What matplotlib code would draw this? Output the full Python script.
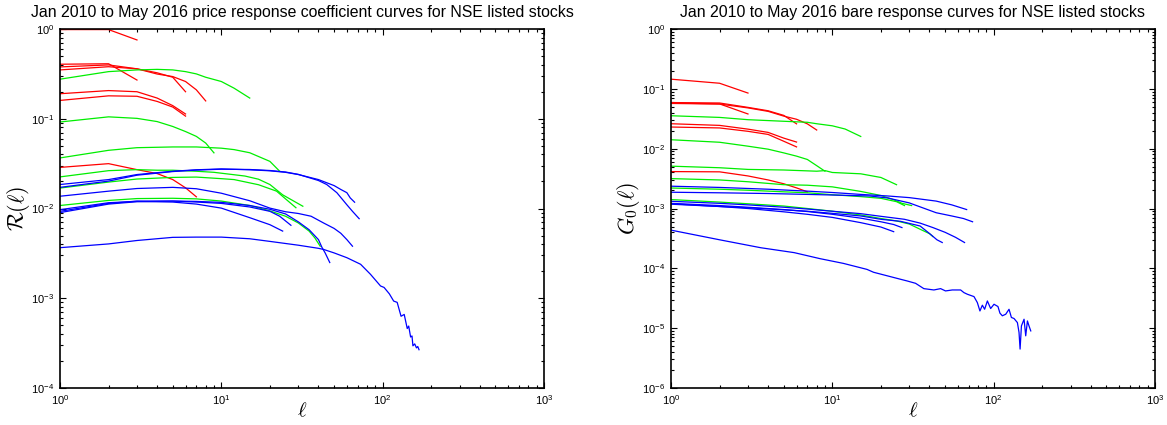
import matplotlib
matplotlib.use("Agg")
import matplotlib.pyplot as plt
from matplotlib.ticker import LogLocator, NullFormatter

plt.rcParams['font.family'] = ['Liberation Sans', 'DejaVu Sans']
plt.rcParams['mathtext.fontset'] = 'dejavusans'

# ---------------- price response coefficient R(l) ----------------
# red group
RR1_LAG = [1, 2, 3]
RR1_VAL = [0.985, 0.985, 0.755]
RR2_LAG = [1, 2, 3]
RR2_VAL = [0.405, 0.41, 0.27]
RR3_LAG = [1, 2, 3, 4, 5, 6]
RR3_VAL = [0.378, 0.398, 0.36, 0.325, 0.29, 0.20]
RR4_LAG = [1, 2, 3, 4, 5, 6, 7, 8]
RR4_VAL = [0.35, 0.38, 0.36, 0.315, 0.295, 0.26, 0.21, 0.158]
RR5_LAG = [1, 2, 3, 4, 5, 6]
RR5_VAL = [0.19, 0.206, 0.20, 0.17, 0.14, 0.113]
RR6_LAG = [1, 2, 3, 4, 5, 6]
RR6_VAL = [0.16, 0.18, 0.178, 0.156, 0.135, 0.107]
RR7_LAG = [1, 2, 3, 4, 5, 6, 7]
RR7_VAL = [0.0287, 0.0316, 0.0271, 0.0245, 0.021, 0.017, 0.0135]

# green group
RG1_LAG = [1, 2, 3, 4, 5, 6, 7, 8, 10, 12, 15]
RG1_VAL = [0.276, 0.335, 0.35, 0.355, 0.35, 0.335, 0.316, 0.29, 0.26, 0.219, 0.17]
RG2_LAG = [1, 2, 3, 4, 5, 6, 7, 8, 9]
RG2_VAL = [0.092, 0.105, 0.101, 0.093, 0.082, 0.072, 0.0636, 0.0536, 0.0417]
RG3_LAG = [1, 2, 3, 5, 7, 10, 12, 15, 20, 23]
RG3_VAL = [0.0366, 0.0445, 0.0476, 0.0485, 0.0485, 0.047, 0.0453, 0.0418, 0.0335, 0.026]
RG4_LAG = [1, 2, 3, 4, 5, 7, 9, 14, 17, 20, 24, 32]
RG4_VAL = [0.0225, 0.0264, 0.0271, 0.0267, 0.0267, 0.026, 0.0253, 0.023, 0.0212, 0.0185, 0.0142, 0.0106]
RG5_LAG = [1, 2, 3, 5, 7, 10, 12, 17, 22, 25, 29]
RG5_VAL = [0.0169, 0.0197, 0.0213, 0.0222, 0.0224, 0.0215, 0.021, 0.0184, 0.0156, 0.0128, 0.0102]
RG6_LAG = [1, 2, 3, 5, 7, 10, 15, 20, 25, 30, 35, 38, 41]
RG6_VAL = [0.0108, 0.0123, 0.0129, 0.013, 0.0128, 0.0121, 0.0108, 0.0094, 0.0082, 0.0069, 0.0056, 0.0047, 0.0038]

# blue group
RB1_LAG = [1, 2, 3, 5, 7, 10, 15, 20, 30, 40, 43, 50, 60, 73, 84, 97, 102, 110, 117,
           123, 130, 136, 142, 145, 149, 152, 154, 158, 162, 165, 168]
RB1_VAL = [0.00366, 0.00403, 0.0044, 0.00477, 0.0048, 0.0048, 0.0046, 0.0043, 0.0039,
           0.0036, 0.0035, 0.0032, 0.00283, 0.00239, 0.00185, 0.00137, 0.00132, 0.00112,
           0.00093, 0.0009, 0.00063, 0.00066, 0.00046, 0.00049, 0.00037, 0.00038,
           0.000295, 0.00031, 0.00028, 0.00029, 0.000267]
RB2_LAG = [1, 2, 3, 5, 7, 10, 15, 20, 25, 30, 40, 50, 55, 60, 63, 67]
RB2_VAL = [0.0185, 0.021, 0.0239, 0.026, 0.027, 0.0276, 0.027, 0.0263, 0.0253, 0.0239,
           0.021, 0.018, 0.0163, 0.015, 0.0131, 0.01175]
RB3_LAG = [1, 2, 3, 5, 7, 10, 15, 20, 25, 30, 40, 45, 52, 60, 65, 71.5]
RB3_VAL = [0.0172, 0.0202, 0.0235, 0.0258, 0.0268, 0.0274, 0.0272, 0.0265, 0.0255, 0.024,
           0.0205, 0.0185, 0.015, 0.011, 0.0093, 0.0077]
RB4_LAG = [1, 2, 3, 5, 7, 10, 15, 20, 25, 30, 36, 43, 50, 55, 60, 65]
RB4_VAL = [0.0137, 0.0156, 0.0167, 0.0172, 0.0166, 0.0148, 0.0122, 0.0101, 0.0092, 0.0088,
           0.0082, 0.0069, 0.006, 0.0053, 0.0045, 0.0038]
RB5_LAG = [1, 2, 3, 5, 7, 10, 15, 20, 24]
RB5_VAL = [0.0097, 0.0116, 0.012, 0.0118, 0.0112, 0.0101, 0.0079, 0.0066, 0.0056]
RB6_LAG = [1, 2, 3, 5, 7, 10, 15, 20, 23, 27]
RB6_VAL = [0.0093, 0.0114, 0.0121, 0.0121, 0.0118, 0.0114, 0.0104, 0.0093, 0.0082, 0.0065]
RB7_LAG = [1, 2, 3, 5, 7, 10, 15, 20, 25, 30, 35, 40, 42, 44, 47]
RB7_VAL = [0.009, 0.0112, 0.0119, 0.0121, 0.012, 0.0117, 0.0108, 0.0098, 0.0087, 0.0071,
           0.0058, 0.0045, 0.0037, 0.0032, 0.0025]

# ---------------- bare response G0(l) ----------------
GR1_LAG = [1, 2, 3]
GR1_VAL = [0.145, 0.124, 0.085]
GR2_LAG = [1, 2, 3]
GR2_VAL = [0.058, 0.056, 0.038]
GR3_LAG = [1, 2, 3, 4, 5, 6]
GR3_VAL = [0.059, 0.058, 0.049, 0.043, 0.036, 0.026]
GR4_LAG = [1, 2, 3, 4, 5, 6, 7, 8]
GR4_VAL = [0.057, 0.0557, 0.048, 0.042, 0.035, 0.031, 0.026, 0.0205]
GR5_LAG = [1, 2, 3, 4, 5, 6]
GR5_VAL = [0.0261, 0.0245, 0.0212, 0.0187, 0.015, 0.0129]
GR6_LAG = [1, 2, 3, 4, 5, 6]
GR6_VAL = [0.023, 0.0222, 0.0195, 0.0173, 0.0133, 0.0107]
GR7_LAG = [1, 2, 3, 4, 5, 6, 7]
GR7_VAL = [0.00414, 0.0041, 0.0035, 0.003, 0.00259, 0.00221, 0.0019]

GG1_LAG = [1, 2, 3, 5, 7, 8, 10, 12, 15]
GG1_VAL = [0.0355, 0.0333, 0.0305, 0.0287, 0.0276, 0.0261, 0.0241, 0.0213, 0.016]
GG2_LAG = [1, 2, 3, 4, 5, 6, 7, 8, 9]
GG2_VAL = [0.0141, 0.0128, 0.011, 0.0098, 0.0085, 0.0075, 0.0066, 0.0052, 0.0042]
GG3_LAG = [1, 2, 3, 5, 8, 9, 10, 15, 20, 25]
GG3_VAL = [0.0051, 0.0048, 0.0045, 0.0044, 0.0042, 0.0043, 0.004, 0.0038, 0.0033, 0.0025]
GG4_LAG = [1, 2, 3, 5, 7, 10, 15, 20, 24, 27, 31]
GG4_VAL = [0.00316, 0.003, 0.0028, 0.0025, 0.00245, 0.0023, 0.00193, 0.00165, 0.0014,
           0.00122, 0.00112]
GG5_LAG = [1, 2, 3, 5, 7, 10, 15, 20, 25, 28]
GG5_VAL = [0.0022, 0.0021, 0.00202, 0.0019, 0.00183, 0.0017, 0.00158, 0.00148, 0.0013, 0.00112]
GG6_LAG = [1, 2, 3, 5, 7, 10, 15, 20, 25, 30, 35, 40, 42]
GG6_VAL = [0.00141, 0.00128, 0.0012, 0.0011, 0.001, 0.0009, 0.00078, 0.00068, 0.00062,
           0.00055, 0.00045, 0.00038, 0.00034]

GB1_LAG = [1, 2, 3, 3.6, 5.8, 8.4, 11.7, 16.4, 18, 26.5, 29.1, 32.8, 36.9, 42.6, 46.9,
           50.3, 55.4, 62.4, 65.4, 68.7, 75.5, 79.2, 82.2, 85.1, 87.9, 91.4, 95.8, 100.5,
           106.3, 109.4, 113.2, 118.8, 124.5, 128.8, 133.7, 140.3, 143.6, 145.8, 148.6,
           154.3, 158.0, 161.9, 165.6, 169.8]
GB1_VAL = [4.35e-4, 3.0e-4, 2.43e-4, 2.21e-4, 1.83e-4, 1.45e-4, 1.21e-4, 9.6e-5, 8.6e-5,
           6.56e-5, 6.15e-5, 5.62e-5, 4.58e-5, 4.35e-5, 4.58e-5, 4.19e-5, 4.35e-5, 4.35e-5,
           3.93e-5, 3.69e-5, 3.37e-5, 2.68e-5, 1.94e-5, 2.42e-5, 2.07e-5, 2.85e-5, 2.13e-5,
           2.51e-5, 2.3e-5, 1.78e-5, 1.61e-5, 1.71e-5, 2.07e-5, 1.51e-5, 1.45e-5, 1.24e-5,
           8.5e-6, 4.47e-6, 1.09e-5, 1.41e-5, 7.45e-6, 1.32e-5, 1.09e-5, 9.0e-6]
GB2_LAG = [1, 2, 4, 7, 10, 15, 22, 30, 44, 55, 68]
GB2_VAL = [0.00236, 0.00225, 0.0021, 0.00195, 0.00185, 0.00172, 0.00162, 0.00152, 0.00133,
           0.00115, 0.00096]
GB3_LAG = [1, 2, 4, 7, 10, 17, 22, 30, 44, 55, 65, 74]
GB3_VAL = [0.00187, 0.00183, 0.00178, 0.00172, 0.00168, 0.00162, 0.0015, 0.00124, 0.00085,
           0.00075, 0.00068, 0.0006]
GB4_LAG = [1, 2, 3, 5, 7, 10, 15, 20, 28, 35, 42, 50, 58, 66]
GB4_VAL = [0.00132, 0.00122, 0.00115, 0.00105, 0.00098, 0.0009, 0.00082, 0.00074, 0.00066,
           0.00057, 0.00048, 0.0004, 0.00033, 0.00027]
GB5_LAG = [1, 2, 3, 5, 7, 10, 15, 20, 24]
GB5_VAL = [0.0012, 0.00108, 0.001, 0.00088, 0.0008, 0.00071, 0.00058, 0.00049, 0.00041]
GB6_LAG = [1, 2, 3, 5, 7, 10, 15, 20, 24, 27]
GB6_VAL = [0.00122, 0.00112, 0.00105, 0.00096, 0.00089, 0.0008, 0.00069, 0.0006, 0.00054, 0.00048]
GB7_LAG = [1, 2, 3, 5, 7, 10, 15, 20, 26.5, 35, 40.6, 44.5, 48]
GB7_VAL = [0.00118, 0.00108, 0.00103, 0.00095, 0.0009, 0.00083, 0.00075, 0.00066, 0.00061,
           0.00051, 0.00037, 0.0003, 0.00027]

LEFT_TITLE = "Jan 2010 to May 2016 price response coefficient curves for NSE listed stocks"
RIGHT_TITLE = "Jan 2010 to May 2016 bare response curves for NSE listed stocks"

RED, GREEN, BLUE = "#ff0000", "#00ee00", "#0000ff"

left_curves = [
    (RR1_LAG, RR1_VAL, RED), (RR2_LAG, RR2_VAL, RED), (RR3_LAG, RR3_VAL, RED),
    (RR4_LAG, RR4_VAL, RED), (RR5_LAG, RR5_VAL, RED), (RR6_LAG, RR6_VAL, RED),
    (RR7_LAG, RR7_VAL, RED),
    (RG1_LAG, RG1_VAL, GREEN), (RG2_LAG, RG2_VAL, GREEN), (RG3_LAG, RG3_VAL, GREEN),
    (RG4_LAG, RG4_VAL, GREEN), (RG5_LAG, RG5_VAL, GREEN), (RG6_LAG, RG6_VAL, GREEN),
    (RB1_LAG, RB1_VAL, BLUE), (RB2_LAG, RB2_VAL, BLUE), (RB3_LAG, RB3_VAL, BLUE),
    (RB4_LAG, RB4_VAL, BLUE), (RB5_LAG, RB5_VAL, BLUE), (RB6_LAG, RB6_VAL, BLUE),
    (RB7_LAG, RB7_VAL, BLUE),
]
right_curves = [
    (GR1_LAG, GR1_VAL, RED), (GR2_LAG, GR2_VAL, RED), (GR3_LAG, GR3_VAL, RED),
    (GR4_LAG, GR4_VAL, RED), (GR5_LAG, GR5_VAL, RED), (GR6_LAG, GR6_VAL, RED),
    (GR7_LAG, GR7_VAL, RED),
    (GG1_LAG, GG1_VAL, GREEN), (GG2_LAG, GG2_VAL, GREEN), (GG3_LAG, GG3_VAL, GREEN),
    (GG4_LAG, GG4_VAL, GREEN), (GG5_LAG, GG5_VAL, GREEN), (GG6_LAG, GG6_VAL, GREEN),
    (GB1_LAG, GB1_VAL, BLUE), (GB2_LAG, GB2_VAL, BLUE), (GB3_LAG, GB3_VAL, BLUE),
    (GB4_LAG, GB4_VAL, BLUE), (GB5_LAG, GB5_VAL, BLUE), (GB6_LAG, GB6_VAL, BLUE),
    (GB7_LAG, GB7_VAL, BLUE),
]

W, H = 1167, 425
fig = plt.figure(figsize=(W / 100, H / 100), dpi=100)
ax_l = fig.add_axes([60 / W, 1 - 388 / H, 484 / W, 359 / H])
ax_r = fig.add_axes([671 / W, 1 - 388 / H, 484 / W, 359 / H])


def style(ax, ylim, ylabel, title):
    ax.set_xscale("log")
    ax.set_yscale("log")
    ax.set_xlim(1, 1000)
    ax.set_ylim(*ylim)
    ax.xaxis.set_major_locator(LogLocator(base=10, numticks=10))
    ax.yaxis.set_major_locator(LogLocator(base=10, numticks=10))
    ax.xaxis.set_minor_locator(LogLocator(base=10, subs=range(2, 10), numticks=20))
    ax.yaxis.set_minor_locator(LogLocator(base=10, subs=range(2, 10), numticks=20))
    ax.xaxis.set_minor_formatter(NullFormatter())
    ax.yaxis.set_minor_formatter(NullFormatter())
    ax.tick_params(which="both", direction="in", top=True, right=True,
                   labelsize=8, width=0.8, pad=4)
    ax.tick_params(which="major", length=4.5)
    ax.tick_params(which="minor", length=2.5)
    for s in ax.spines.values():
        s.set_linewidth(1.2)
    ax.set_xlabel(r"$\ell$", fontsize=15, math_fontfamily="cm", va="center")
    ax.xaxis.set_label_coords(0.5, -23 / 359)
    ax.set_ylabel(ylabel, fontsize=16, math_fontfamily="cm", va="center")
    ax.yaxis.set_label_coords(-42 / 484, 0.5)
    ax.text(0.5, 1 + 17 / 359, title, transform=ax.transAxes, ha="center",
            va="center", fontsize=11.4)


for lag, val, col in left_curves:
    ax_l.plot(lag, val, color=col, lw=0.9)
for lag, val, col in right_curves:
    ax_r.plot(lag, val, color=col, lw=0.9)

style(ax_l, (1e-4, 1), r"$\mathcal{R}(\ell)$", LEFT_TITLE)
style(ax_r, (1e-6, 1), r"$G_0(\ell)$", RIGHT_TITLE)

fig.savefig("out.png", dpi=100)
